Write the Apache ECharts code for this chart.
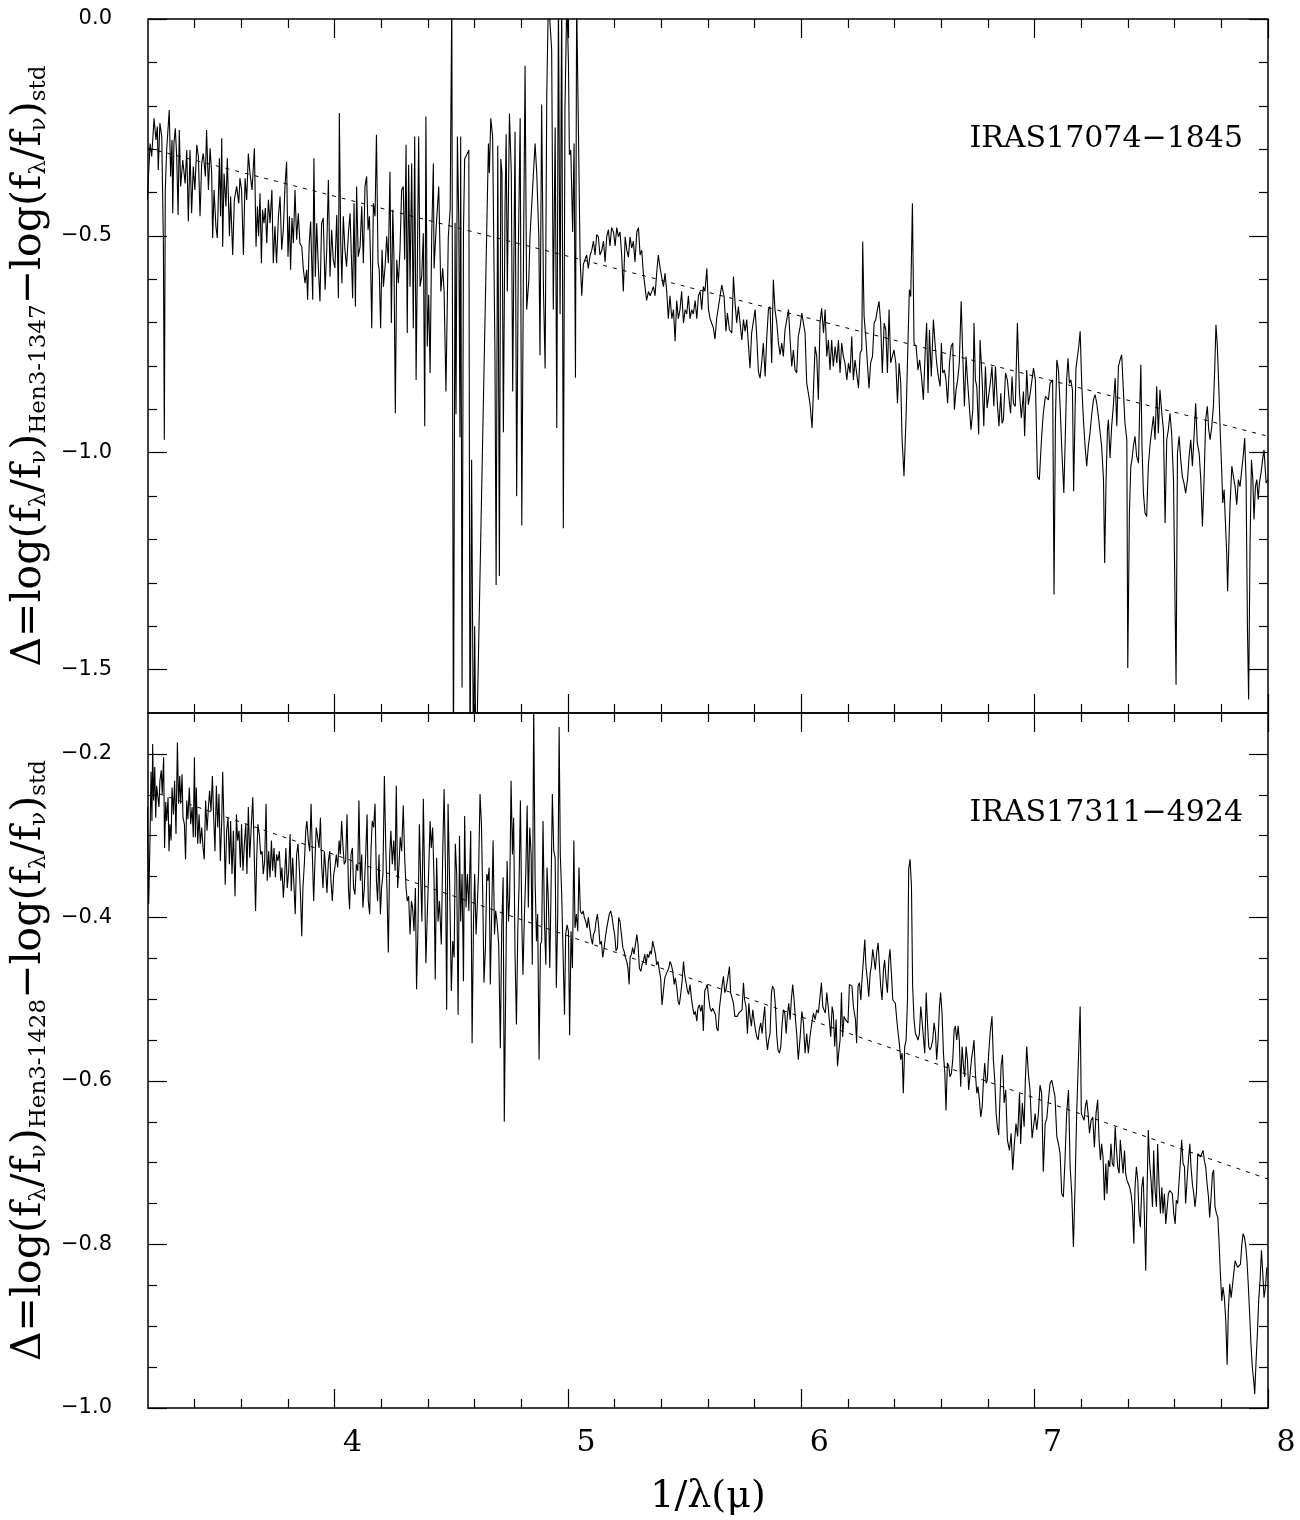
<!DOCTYPE html>
<html><head><meta charset="utf-8">
<script src="https://cdn.jsdelivr.net/npm/echarts@6/dist/echarts.min.js"></script>
<style>html,body{margin:0;padding:0;background:#fff}#c{width:1300px;height:1520px}</style>
</head><body><div id="c"></div>
<script>
// ---- tick values ----
const xMajorTicks = [4, 5, 6, 7, 8];
const xMinorTicks = [3.4, 3.6, 3.8, 4.2, 4.4, 4.6, 4.8, 5.2, 5.4, 5.6, 5.8, 6.2, 6.4, 6.6, 6.8, 7.2, 7.4, 7.6, 7.8];
const topYMajor = [-1.5, -1.0, -0.5, 0.0];
const topYMinor = [-1.4, -1.3, -1.2, -1.1, -0.9, -0.8, -0.7, -0.6, -0.4, -0.3, -0.2, -0.1];
const botYMajor = [-1.0, -0.8, -0.6, -0.4, -0.2];
const botYMinor = [-0.95, -0.9, -0.85, -0.75, -0.7, -0.65, -0.55, -0.5, -0.45, -0.35, -0.3, -0.25];

// ---- labels ----
const topLabel = 'IRAS17074\u22121845';
const botLabel = 'IRAS17311\u22124924';

// ---- trend lines [1/lambda, Delta] ----
const topTrend = [[3.2, -0.298], [8.0, -0.962]];
const botTrend = [[3.25, -0.249], [8.0, -0.720]];

// ---- top spectrum: IRAS17074-1845 [1/lambda, Delta] ----
const topSpectrum = [
[3.197,-0.417],[3.209,-0.287],[3.216,-0.317],[3.226,-0.229],[3.234,-0.279],[3.240,-0.248],[3.244,-0.348],[3.251,-0.240],[3.259,-0.271],[3.266,-0.521],[3.270,-0.970],[3.274,-0.394],[3.280,-0.302],[3.291,-0.210],[3.297,-0.363],[3.303,-0.279],[3.306,-0.448],[3.311,-0.287],[3.317,-0.252],[3.323,-0.317],[3.329,-0.452],[3.334,-0.256],[3.340,-0.386],[3.349,-0.325],[3.359,-0.379],[3.366,-0.302],[3.373,-0.467],[3.380,-0.302],[3.387,-0.448],[3.394,-0.340],[3.401,-0.394],[3.409,-0.290],[3.416,-0.317],[3.423,-0.455],[3.430,-0.333],[3.437,-0.310],[3.446,-0.363],[3.451,-0.256],[3.459,-0.394],[3.466,-0.298],[3.473,-0.356],[3.477,-0.505],[3.483,-0.394],[3.491,-0.478],[3.497,-0.505],[3.506,-0.321],[3.511,-0.455],[3.516,-0.275],[3.520,-0.525],[3.526,-0.356],[3.534,-0.432],[3.540,-0.321],[3.549,-0.501],[3.554,-0.409],[3.563,-0.544],[3.570,-0.417],[3.580,-0.386],[3.589,-0.425],[3.594,-0.367],[3.601,-0.394],[3.609,-0.544],[3.616,-0.367],[3.623,-0.417],[3.630,-0.310],[3.637,-0.356],[3.646,-0.394],[3.656,-0.298],[3.663,-0.525],[3.669,-0.432],[3.674,-0.501],[3.680,-0.402],[3.686,-0.563],[3.691,-0.440],[3.697,-0.471],[3.703,-0.436],[3.709,-0.517],[3.716,-0.417],[3.723,-0.471],[3.731,-0.394],[3.737,-0.563],[3.744,-0.478],[3.751,-0.563],[3.759,-0.455],[3.766,-0.409],[3.773,-0.532],[3.780,-0.486],[3.787,-0.386],[3.794,-0.329],[3.800,-0.548],[3.806,-0.455],[3.811,-0.578],[3.817,-0.459],[3.823,-0.517],[3.830,-0.394],[3.837,-0.509],[3.844,-0.448],[3.851,-0.517],[3.859,-0.525],[3.866,-0.578],[3.873,-0.609],[3.880,-0.578],[3.884,-0.647],[3.891,-0.517],[3.897,-0.467],[3.906,-0.647],[3.911,-0.321],[3.917,-0.594],[3.923,-0.471],[3.930,-0.571],[3.937,-0.651],[3.944,-0.471],[3.951,-0.459],[3.959,-0.624],[3.966,-0.532],[3.973,-0.371],[3.980,-0.594],[3.987,-0.486],[3.994,-0.555],[4.001,-0.574],[4.009,-0.452],[4.016,-0.644],[4.020,-0.217],[4.026,-0.517],[4.031,-0.609],[4.037,-0.455],[4.044,-0.532],[4.051,-0.571],[4.059,-0.494],[4.066,-0.448],[4.073,-0.571],[4.077,-0.644],[4.083,-0.425],[4.089,-0.663],[4.094,-0.386],[4.101,-0.548],[4.109,-0.525],[4.116,-0.432],[4.123,-0.563],[4.130,-0.386],[4.137,-0.363],[4.143,-0.486],[4.149,-0.455],[4.154,-0.563],[4.159,-0.713],[4.166,-0.425],[4.173,-0.455],[4.179,-0.267],[4.186,-0.563],[4.191,-0.578],[4.197,-0.713],[4.203,-0.532],[4.209,-0.617],[4.216,-0.571],[4.223,-0.501],[4.230,-0.563],[4.237,-0.352],[4.243,-0.701],[4.249,-0.440],[4.254,-0.548],[4.260,-0.909],[4.266,-0.555],[4.273,-0.609],[4.280,-0.532],[4.287,-0.394],[4.294,-0.386],[4.300,-0.555],[4.306,-0.290],[4.311,-0.724],[4.317,-0.336],[4.323,-0.617],[4.330,-0.333],[4.337,-0.713],[4.343,-0.271],[4.349,-0.832],[4.354,-0.586],[4.360,-0.271],[4.366,-0.617],[4.373,-0.594],[4.380,-0.494],[4.386,-0.939],[4.391,-0.225],[4.397,-0.755],[4.403,-0.636],[4.409,-0.816],[4.416,-0.494],[4.423,-0.333],
[4.426,-0.575],[4.435,-0.481],[4.446,-0.386],[4.455,-0.628],[4.463,-0.575],[4.469,-0.628],[4.477,-0.859],[4.487,-0.502],[4.495,-0.439],[4.502,0.05],[4.509,-1.75],[4.516,-0.470],[4.520,-0.911],[4.526,-0.271],[4.532,-0.470],[4.537,-0.964],[4.540,-0.271],[4.546,-1.541],[4.552,-0.491],[4.557,-0.323],[4.566,-0.313],[4.575,-0.302],[4.580,-1.75],[4.587,-1.016],[4.595,-1.75],[4.600,-1.40],[4.606,-1.75],[4.659,-0.287],[4.663,-0.355],[4.669,-0.229],[4.677,-0.271],[4.687,-0.775],[4.692,-1.305],[4.699,-0.292],[4.706,-1.284],[4.712,-0.323],[4.717,-0.355],[4.723,-0.953],[4.730,-0.439],[4.735,-0.266],[4.740,-0.628],[4.749,-0.218],[4.757,-0.355],[4.763,-0.859],[4.773,-0.260],[4.780,-1.100],[4.787,-0.544],[4.795,-0.229],[4.802,-1.168],[4.809,-0.565],[4.816,-0.108],[4.823,-0.670],[4.832,-0.602],[4.837,-0.502],[4.852,-0.355],[4.859,-0.287],[4.866,-0.355],[4.875,-0.502],[4.880,-0.775],[4.887,-0.197],[4.895,-0.628],[4.902,-0.806],[4.909,-0.176],[4.916,0.05],[4.923,0.05],[4.930,-0.071],[4.937,-0.670],[4.945,-0.250],[4.952,-0.943],[4.959,0.05],[4.966,-0.680],[4.973,0.05],[4.980,-1.174],[4.987,-0.208],[4.995,0.05],[5.002,-0.103],[5.006,-0.313],[5.012,-0.302],[5.020,-0.491],[5.026,-0.287],[5.032,-0.827],[5.037,0.05],[5.045,0.05],[5.052,-0.554],
[5.059,-0.638],[5.066,-0.565],[5.073,-0.565],[5.080,-0.544],[5.087,-0.575],[5.095,-0.544],[5.102,-0.533],[5.109,-0.512],[5.116,-0.544],[5.123,-0.497],[5.130,-0.502],[5.137,-0.544],[5.145,-0.533],[5.152,-0.512],[5.159,-0.560],[5.166,-0.502],[5.173,-0.486],[5.180,-0.523],[5.187,-0.481],[5.195,-0.491],[5.202,-0.523],[5.209,-0.481],[5.216,-0.502],[5.223,-0.491],[5.230,-0.544],[5.237,-0.628],[5.245,-0.502],[5.252,-0.533],[5.259,-0.549],[5.266,-0.502],[5.273,-0.528],[5.280,-0.512],[5.287,-0.560],[5.295,-0.491],[5.302,-0.481],[5.309,-0.544],[5.316,-0.533],[5.323,-0.586],[5.330,-0.617],[5.337,-0.649],[5.345,-0.628],[5.352,-0.638],[5.359,-0.628],[5.366,-0.617],[5.373,-0.638],[5.380,-0.586],[5.387,-0.544],[5.395,-0.575],[5.402,-0.596],[5.409,-0.617],[5.416,-0.586],[5.423,-0.628],[5.430,-0.691],[5.437,-0.638],[5.445,-0.691],[5.452,-0.670],[5.459,-0.743],[5.466,-0.649],[5.473,-0.691],[5.480,-0.670],[5.487,-0.628],[5.495,-0.701],[5.502,-0.670],[5.509,-0.680],[5.516,-0.638],[5.523,-0.691],[5.530,-0.670],[5.537,-0.680],[5.545,-0.649],[5.552,-0.691],[5.559,-0.638],[5.566,-0.628],[5.573,-0.670],[5.580,-0.617],[5.587,-0.628],[5.595,-0.575],[5.602,-0.670],[5.609,-0.691],[5.616,-0.691],[5.623,-0.712],[5.630,-0.738],[5.637,-0.691],
[5.659,-0.613],[5.669,-0.640],[5.677,-0.720],[5.683,-0.678],[5.692,-0.717],[5.702,-0.724],[5.709,-0.594],[5.716,-0.655],[5.723,-0.701],[5.730,-0.663],[5.737,-0.659],[5.745,-0.740],[5.752,-0.693],[5.759,-0.720],[5.766,-0.693],[5.773,-0.697],[5.780,-0.805],[5.787,-0.724],[5.795,-0.724],[5.802,-0.670],[5.809,-0.732],[5.816,-0.813],[5.823,-0.828],[5.830,-0.793],[5.837,-0.747],[5.845,-0.824],[5.852,-0.732],[5.859,-0.670],[5.866,-0.663],[5.873,-0.793],[5.880,-0.601],[5.887,-0.670],[5.895,-0.701],[5.902,-0.747],[5.909,-0.774],[5.916,-0.747],[5.923,-0.778],[5.930,-0.717],[5.937,-0.720],[5.945,-0.670],[5.952,-0.740],[5.959,-0.801],[5.966,-0.763],[5.973,-0.809],[5.980,-0.816],[5.987,-0.732],[5.995,-0.709],[6.002,-0.678],[6.009,-0.701],[6.016,-0.724],[6.023,-0.839],[6.037,-0.886],[6.046,-0.943],[6.052,-0.855],[6.059,-0.755],[6.066,-0.778],[6.073,-0.878],[6.080,-0.701],[6.087,-0.667],[6.095,-0.724],[6.102,-0.670],[6.109,-0.778],[6.116,-0.740],[6.123,-0.809],[6.130,-0.740],[6.137,-0.801],[6.145,-0.755],[6.152,-0.793],[6.159,-0.740],[6.166,-0.816],[6.173,-0.747],[6.180,-0.778],[6.187,-0.793],[6.195,-0.832],[6.202,-0.793],[6.209,-0.816],[6.216,-0.732],[6.223,-0.832],[6.230,-0.786],[6.237,-0.786],[6.245,-0.851],[6.252,-0.770],[6.259,-0.763],[6.263,-0.513],[6.269,-0.686],[6.276,-0.732],[6.283,-0.793],[6.290,-0.851],[6.297,-0.793],[6.305,-0.778],[6.312,-0.701],[6.319,-0.693],[6.326,-0.670],[6.333,-0.651],[6.340,-0.701],[6.347,-0.816],[6.355,-0.701],[6.362,-0.717],[6.369,-0.816],[6.376,-0.670],[6.383,-0.793],[6.390,-0.778],[6.397,-0.763],[6.405,-0.793],[6.412,-0.886],[6.419,-0.793],[6.426,-0.839],[6.432,-0.970],[6.440,-1.054],[6.449,-0.916],[6.457,-0.747],[6.463,-0.624],[6.469,-0.640],[6.476,-0.425],[6.483,-0.747],[6.492,-0.755],[6.500,-0.809],[6.507,-0.786],[6.515,-0.824],[6.523,-0.878],[6.530,-0.778],[6.537,-0.701],[6.543,-0.862],[6.549,-0.717],[6.557,-0.824],[6.566,-0.693],[6.573,-0.747],[6.580,-0.793],[6.587,-0.824],[6.595,-0.847],[6.600,-0.747],[6.606,-0.816],[6.613,-0.809],[6.620,-0.832],[6.627,-0.886],[6.635,-0.793],[6.642,-0.755],[6.649,-0.747],[6.656,-0.901],[6.663,-0.855],[6.670,-0.832],[6.677,-0.793],[6.685,-0.651],[6.692,-0.778],[6.699,-0.893],[6.706,-0.778],[6.713,-0.839],[6.720,-0.893],[6.727,-0.947],[6.735,-0.901],[6.740,-0.701],[6.746,-0.832],[6.752,-0.847],[6.760,-0.958],[6.766,-0.740],[6.775,-0.832],[6.782,-0.939],[6.789,-0.801],[6.796,-0.897],[6.803,-0.897],[6.810,-0.839],[6.817,-0.801],[6.825,-0.893],[6.832,-0.801],[6.840,-0.886],[6.847,-0.939],
[6.855,-0.863],[6.860,-0.932],[6.866,-0.924],[6.875,-0.816],[6.883,-0.832],[6.892,-0.886],[6.897,-0.909],[6.903,-0.824],[6.909,-0.886],[6.917,-0.893],[6.926,-0.701],[6.935,-0.863],[6.943,-0.920],[6.952,-0.859],[6.957,-0.962],[6.966,-0.809],[6.973,-0.889],[6.980,-0.866],[6.987,-0.863],[6.995,-0.805],[7.003,-0.832],[7.012,-1.055],[7.020,-1.062],[7.030,-0.962],[7.037,-0.909],[7.046,-0.870],[7.052,-0.866],[7.059,-0.878],[7.066,-0.840],[7.073,-0.836],[7.077,-0.832],[7.083,-1.327],[7.089,-0.924],[7.095,-0.786],[7.102,-0.809],[7.109,-0.893],[7.117,-1.001],[7.125,-1.093],[7.132,-0.947],[7.137,-0.832],[7.143,-0.782],[7.149,-0.840],[7.155,-0.832],[7.162,-0.855],[7.167,-1.089],[7.173,-0.909],[7.177,-0.805],[7.183,-0.809],[7.189,-0.755],[7.195,-0.720],[7.202,-0.847],[7.209,-0.924],[7.216,-0.985],[7.223,-1.031],[7.230,-0.985],[7.237,-0.955],[7.245,-0.909],[7.252,-0.878],[7.259,-0.866],[7.266,-0.886],[7.273,-0.916],[7.280,-0.916],[7.287,-0.985],[7.295,-1.062],[7.300,-1.254],[7.306,-1.062],[7.312,-0.947],[7.316,-0.924],[7.323,-1.012],[7.330,-0.939],[7.337,-0.893],[7.345,-0.828],[7.352,-0.939],[7.359,-0.801],[7.366,-0.786],[7.373,-0.774],[7.380,-0.855],[7.387,-0.932],[7.395,-0.970],[7.399,-1.496],[7.406,-1.139],[7.412,-1.031],[7.417,-1.016],[7.423,-0.985],[7.430,-0.962],[7.437,-1.008],[7.445,-1.024],[7.449,-0.924],[7.455,-0.797],[7.460,-0.985],[7.466,-1.093],[7.473,-1.139],[7.480,-1.147],[7.487,-1.031],[7.495,-0.978],[7.502,-0.978],[7.509,-0.916],[7.516,-0.970],[7.523,-0.847],[7.530,-0.955],[7.537,-0.855],[7.545,-0.909],[7.552,-0.947],[7.559,-1.162],[7.566,-0.970],[7.573,-0.947],[7.580,-0.909],[7.587,-0.955],[7.595,-1.062],[7.606,-1.535],[7.612,-1.001],[7.619,-0.962],[7.626,-1.016],[7.633,-1.055],[7.640,-1.070],[7.647,-1.093],[7.655,-1.062],[7.662,-1.008],[7.669,-0.970],[7.676,-1.031],[7.683,-0.962],[7.690,-0.886],[7.697,-0.978],[7.705,-1.001],[7.712,-1.062],[7.719,-1.170],[7.726,-1.062],[7.733,-0.924],[7.740,-0.893],[7.746,-0.947],[7.752,-0.970],[7.759,-0.939],[7.766,-0.893],[7.772,-0.801],[7.777,-0.705],[7.783,-0.755],[7.789,-0.847],[7.795,-0.947],[7.802,-1.047],[7.806,-1.116],[7.812,-1.085],[7.817,-1.154],[7.823,-1.231],[7.827,-1.319],[7.832,-1.216],[7.837,-1.124],[7.845,-1.031],[7.852,-1.055],[7.859,-1.078],[7.866,-1.120],[7.873,-1.062],[7.880,-1.078],[7.887,-1.078],[7.895,-1.001],[7.900,-0.966],[7.906,-1.062],[7.912,-1.408],[7.917,-1.569],[7.923,-1.216],[7.929,-1.016],[7.935,-1.062],[7.940,-1.154],[7.946,-1.078],[7.952,-1.062],[7.958,-1.108],[7.963,-1.070],[7.970,-1.047],[7.977,-1.016],[7.983,-0.993],[7.992,-1.070],[7.999,-1.062]
];

// ---- bottom spectrum: IRAS17311-4924 [1/lambda, Delta] ----
const botSpectrum = [
[3.197,-0.265],[3.203,-0.384],[3.209,-0.298],[3.213,-0.222],[3.217,-0.282],[3.220,-0.188],[3.224,-0.257],[3.229,-0.216],[3.233,-0.278],[3.237,-0.239],[3.241,-0.249],[3.247,-0.265],[3.251,-0.233],[3.257,-0.220],[3.261,-0.249],[3.267,-0.204],[3.271,-0.315],[3.276,-0.259],[3.280,-0.282],[3.286,-0.253],[3.290,-0.319],[3.294,-0.286],[3.299,-0.306],[3.303,-0.241],[3.309,-0.274],[3.314,-0.233],[3.320,-0.298],[3.326,-0.186],[3.331,-0.261],[3.336,-0.227],[3.340,-0.261],[3.346,-0.225],[3.350,-0.278],[3.356,-0.286],[3.361,-0.329],[3.366,-0.257],[3.371,-0.280],[3.377,-0.241],[3.383,-0.286],[3.389,-0.265],[3.394,-0.302],[3.399,-0.204],[3.403,-0.302],[3.407,-0.241],[3.413,-0.310],[3.419,-0.274],[3.424,-0.310],[3.430,-0.290],[3.436,-0.315],[3.441,-0.329],[3.447,-0.257],[3.453,-0.294],[3.459,-0.265],[3.464,-0.245],[3.470,-0.270],[3.476,-0.227],[3.481,-0.274],[3.487,-0.319],[3.493,-0.239],[3.499,-0.290],[3.504,-0.249],[3.510,-0.331],[3.516,-0.282],[3.520,-0.222],[3.526,-0.290],[3.531,-0.360],[3.537,-0.294],[3.543,-0.278],[3.549,-0.335],[3.554,-0.282],[3.560,-0.347],[3.566,-0.294],[3.573,-0.374],[3.579,-0.274],[3.584,-0.306],[3.590,-0.294],[3.596,-0.339],[3.601,-0.286],[3.607,-0.343],[3.613,-0.310],[3.619,-0.286],[3.624,-0.347],[3.630,-0.265],[3.636,-0.327],[3.643,-0.286],[3.649,-0.253],[3.654,-0.306],[3.661,-0.392],[3.666,-0.327],[3.671,-0.286],[3.677,-0.298],[3.683,-0.323],[3.689,-0.319],[3.694,-0.347],[3.700,-0.331],[3.706,-0.261],[3.711,-0.355],[3.717,-0.319],[3.723,-0.351],[3.729,-0.306],[3.734,-0.343],[3.740,-0.315],[3.746,-0.351],[3.751,-0.323],[3.757,-0.331],[3.763,-0.319],[3.769,-0.355],[3.774,-0.339],[3.780,-0.376],[3.786,-0.347],[3.791,-0.315],[3.797,-0.364],[3.803,-0.343],[3.809,-0.298],[3.814,-0.368],[3.820,-0.327],[3.826,-0.364],[3.831,-0.396],[3.837,-0.323],[3.843,-0.310],[3.849,-0.343],[3.854,-0.376],[3.859,-0.423],[3.864,-0.364],[3.870,-0.335],[3.876,-0.294],[3.881,-0.282],[3.887,-0.306],[3.893,-0.319],[3.899,-0.261],[3.904,-0.319],[3.910,-0.380],[3.916,-0.327],[3.921,-0.290],[3.927,-0.302],[3.933,-0.315],[3.939,-0.278],[3.944,-0.335],[3.950,-0.364],[3.956,-0.319],[3.961,-0.339],[3.967,-0.370],[3.973,-0.331],[3.979,-0.319],[3.984,-0.355],[3.990,-0.380],[3.996,-0.347],[4.001,-0.339],[4.007,-0.323],[4.013,-0.339],[4.019,-0.306],[4.024,-0.323],[4.030,-0.282],[4.036,-0.315],[4.041,-0.335],[4.047,-0.331],[4.053,-0.274],[4.059,-0.364],[4.064,-0.390],[4.070,-0.323],[4.076,-0.315],[4.081,-0.364],[4.087,-0.372],[4.093,-0.335],[4.099,-0.343],[4.104,-0.257],[4.110,-0.355],[4.116,-0.323],[4.121,-0.388],[4.127,-0.364],[4.133,-0.323],[4.139,-0.274],[4.144,-0.380],[4.150,-0.396],[4.156,-0.315],[4.161,-0.282],[4.167,-0.290],[4.173,-0.261],[4.179,-0.355],[4.184,-0.380],[4.190,-0.323],[4.196,-0.396],[4.201,-0.364],[4.207,-0.347],[4.213,-0.227],[4.219,-0.315],[4.224,-0.364],[4.230,-0.443],[4.236,-0.323],[4.241,-0.294],[4.247,-0.335],[4.253,-0.306],[4.259,-0.343],[4.264,-0.239],[4.270,-0.364],[4.276,-0.335],[4.281,-0.302],[4.287,-0.319],[4.294,-0.263],[4.300,-0.327],[4.306,-0.364],[4.311,-0.380],[4.317,-0.374],[4.323,-0.421],[4.329,-0.380],[4.334,-0.388],[4.340,-0.417],[4.346,-0.364],[4.351,-0.488],[4.357,-0.413],[4.363,-0.286],[4.369,-0.355],[4.374,-0.405],[4.380,-0.255],[4.386,-0.364],[4.391,-0.456],[4.397,-0.396],[4.403,-0.343],[4.409,-0.282],[4.414,-0.315],[4.420,-0.290],[4.426,-0.355],[4.431,-0.476],[4.437,-0.327],[4.443,-0.405],[4.449,-0.380],
[4.457,-0.433],[4.463,-0.323],[4.469,-0.243],[4.475,-0.343],[4.480,-0.513],[4.486,-0.261],[4.492,-0.347],[4.500,-0.490],[4.506,-0.429],[4.512,-0.449],[4.517,-0.310],[4.523,-0.347],[4.529,-0.519],[4.535,-0.300],[4.540,-0.405],[4.546,-0.347],[4.552,-0.478],[4.557,-0.276],[4.563,-0.388],[4.569,-0.347],[4.575,-0.392],[4.583,-0.294],[4.589,-0.554],[4.595,-0.405],[4.600,-0.347],[4.606,-0.421],[4.612,-0.380],[4.617,-0.343],[4.623,-0.249],[4.629,-0.286],[4.635,-0.380],[4.640,-0.480],[4.646,-0.437],[4.652,-0.347],[4.657,-0.355],[4.662,-0.339],[4.667,-0.482],[4.673,-0.482],[4.679,-0.306],[4.685,-0.421],[4.690,-0.392],[4.696,-0.405],[4.703,-0.433],[4.710,-0.560],[4.716,-0.413],[4.722,-0.351],[4.727,-0.650],[4.733,-0.486],[4.739,-0.331],[4.745,-0.405],[4.750,-0.374],[4.756,-0.233],[4.762,-0.323],[4.767,-0.278],[4.773,-0.445],[4.779,-0.531],[4.785,-0.413],[4.790,-0.364],[4.796,-0.257],[4.802,-0.405],[4.807,-0.470],[4.813,-0.400],[4.819,-0.347],[4.825,-0.263],[4.830,-0.388],[4.836,-0.290],[4.842,-0.323],[4.847,-0.458],[4.853,-0.140],[4.859,-0.355],[4.865,-0.429],[4.870,-0.396],[4.876,-0.574],[4.882,-0.433],[4.887,-0.429],[4.893,-0.282],[4.899,-0.405],[4.905,-0.458],[4.910,-0.339],[4.916,-0.380],[4.922,-0.462],[4.927,-0.372],[4.933,-0.249],[4.939,-0.319],[4.945,-0.327],[4.950,-0.486],[4.956,-0.396],[4.962,-0.167],[4.967,-0.323],[4.973,-0.372],[4.979,-0.374],[4.985,-0.519],[4.990,-0.421],[4.996,-0.409],[5.002,-0.417],[5.007,-0.544],[5.013,-0.417],[5.019,-0.462],[5.025,-0.306],[5.030,-0.413],[5.036,-0.396],[5.042,-0.417],[5.047,-0.339],[5.053,-0.392],[5.059,-0.396],[5.065,-0.392],[5.070,-0.400],[5.076,-0.405],[5.082,-0.413],[5.087,-0.400],[5.093,-0.413],[5.099,-0.425],[5.105,-0.433],[5.109,-0.421],[5.115,-0.417],[5.120,-0.405],[5.126,-0.396],[5.132,-0.413],[5.137,-0.433],[5.143,-0.429],[5.149,-0.449],[5.155,-0.437],[5.160,-0.425],[5.166,-0.413],[5.172,-0.413],[5.177,-0.396],[5.183,-0.392],[5.189,-0.400],[5.195,-0.413],[5.200,-0.421],[5.206,-0.441],[5.212,-0.437],[5.217,-0.400],[5.223,-0.405],[5.229,-0.421],[5.235,-0.437],[5.240,-0.441],[5.246,-0.449],[5.252,-0.454],[5.257,-0.462],[5.262,-0.482],[5.266,-0.449],[5.272,-0.445],[5.277,-0.437],[5.283,-0.445],[5.289,-0.433],[5.295,-0.421],[5.300,-0.433],[5.306,-0.462],[5.312,-0.466],[5.317,-0.458],[5.323,-0.454],[5.329,-0.445],[5.335,-0.458],[5.340,-0.445],[5.346,-0.449],[5.352,-0.441],[5.357,-0.445],[5.363,-0.429],[5.369,-0.429],[5.375,-0.445],[5.380,-0.458],[5.386,-0.454],[5.392,-0.466],[5.397,-0.474],[5.403,-0.507],[5.409,-0.490],[5.415,-0.474],[5.420,-0.470],[5.426,-0.470],[5.432,-0.462],[5.437,-0.454],[5.443,-0.458],[5.449,-0.466],[5.455,-0.482],[5.460,-0.474],[5.466,-0.486],[5.472,-0.503],[5.477,-0.507],[5.483,-0.494],[5.489,-0.478],[5.495,-0.454],[5.500,-0.470],[5.506,-0.470],[5.512,-0.490],[5.517,-0.494],[5.523,-0.482],[5.529,-0.499],[5.535,-0.511],[5.540,-0.519],[5.546,-0.515],[5.552,-0.527],[5.557,-0.511],[5.563,-0.507],[5.569,-0.515],[5.575,-0.507],[5.580,-0.539],[5.586,-0.490],[5.592,-0.486],[5.597,-0.482],[5.603,-0.499],[5.609,-0.511],[5.615,-0.515],[5.620,-0.511],[5.626,-0.515],[5.632,-0.519],[5.637,-0.535],[5.643,-0.539],[5.649,-0.511],
[5.655,-0.509],[5.660,-0.484],[5.666,-0.472],[5.672,-0.492],[5.677,-0.488],[5.686,-0.472],[5.692,-0.460],[5.697,-0.492],[5.703,-0.492],[5.709,-0.505],[5.715,-0.521],[5.720,-0.523],[5.726,-0.521],[5.732,-0.517],[5.737,-0.519],[5.746,-0.513],[5.752,-0.480],[5.757,-0.501],[5.763,-0.509],[5.769,-0.542],[5.775,-0.505],[5.780,-0.521],[5.786,-0.533],[5.792,-0.513],[5.797,-0.525],[5.803,-0.537],[5.809,-0.546],[5.815,-0.550],[5.820,-0.537],[5.826,-0.529],[5.832,-0.542],[5.837,-0.525],[5.843,-0.509],[5.849,-0.546],[5.855,-0.562],[5.860,-0.550],[5.866,-0.542],[5.872,-0.492],[5.877,-0.484],[5.883,-0.488],[5.889,-0.509],[5.895,-0.546],[5.900,-0.562],[5.906,-0.566],[5.912,-0.558],[5.917,-0.533],[5.923,-0.513],[5.929,-0.517],[5.935,-0.542],[5.940,-0.521],[5.946,-0.505],[5.952,-0.525],[5.957,-0.501],[5.963,-0.482],[5.969,-0.501],[5.975,-0.525],[5.980,-0.542],[5.987,-0.574],[5.995,-0.546],[6.002,-0.515],[6.009,-0.529],[6.016,-0.566],[6.023,-0.542],[6.030,-0.566],[6.037,-0.546],[6.045,-0.529],[6.052,-0.517],[6.059,-0.525],[6.066,-0.513],[6.073,-0.517],[6.080,-0.517],[6.086,-0.480],[6.092,-0.509],[6.097,-0.513],[6.103,-0.517],[6.109,-0.492],[6.115,-0.509],[6.120,-0.509],[6.126,-0.546],[6.132,-0.509],[6.137,-0.517],[6.143,-0.558],[6.149,-0.525],[6.155,-0.582],[6.160,-0.566],[6.166,-0.550],[6.172,-0.492],[6.177,-0.546],[6.183,-0.521],[6.189,-0.525],[6.195,-0.525],[6.200,-0.529],[6.206,-0.482],[6.212,-0.480],[6.217,-0.484],[6.223,-0.509],[6.232,-0.525],[6.237,-0.554],[6.243,-0.484],[6.249,-0.480],[6.255,-0.501],[6.260,-0.476],[6.266,-0.452],[6.272,-0.427],[6.277,-0.460],[6.283,-0.476],[6.289,-0.497],[6.295,-0.468],[6.300,-0.460],[6.306,-0.439],[6.312,-0.452],[6.317,-0.464],[6.323,-0.443],[6.329,-0.431],[6.335,-0.460],[6.340,-0.484],[6.346,-0.501],[6.352,-0.464],[6.357,-0.452],[6.363,-0.476],[6.369,-0.492],[6.375,-0.452],[6.380,-0.439],[6.386,-0.468],[6.392,-0.501],[6.397,-0.501],[6.403,-0.505],[6.409,-0.525],[6.415,-0.542],[6.420,-0.554],[6.426,-0.574],[6.432,-0.566],[6.437,-0.615],[6.443,-0.558],[6.449,-0.550],[6.455,-0.501],[6.460,-0.341],[6.466,-0.329],[6.472,-0.362],[6.477,-0.484],[6.483,-0.525],[6.489,-0.542],[6.495,-0.546],[6.500,-0.550],[6.506,-0.542],[6.512,-0.509],[6.517,-0.525],[6.523,-0.546],[6.529,-0.566],[6.535,-0.492],[6.540,-0.525],[6.546,-0.558],[6.552,-0.562],[6.557,-0.558],[6.563,-0.550],[6.569,-0.529],[6.575,-0.542],[6.580,-0.574],[6.586,-0.550],[6.592,-0.509],[6.597,-0.492],[6.603,-0.517],[6.609,-0.566],[6.615,-0.591],[6.620,-0.636],[6.626,-0.578],[6.632,-0.582],[6.637,-0.595],[6.643,-0.591],[6.649,-0.574],[6.655,-0.537],[6.660,-0.533],[6.666,-0.550],[6.672,-0.533],[6.677,-0.550],[6.683,-0.607],[6.689,-0.558],[6.695,-0.582],[6.700,-0.595],[6.706,-0.558],[6.712,-0.574],[6.717,-0.611],[6.723,-0.611],[6.729,-0.574],[6.735,-0.562],[6.740,-0.550],[6.746,-0.591],[6.752,-0.615],[6.757,-0.607],[6.763,-0.623],[6.769,-0.644],[6.775,-0.632],[6.780,-0.603],[6.786,-0.578],[6.792,-0.603],[6.797,-0.599],[6.803,-0.566],[6.809,-0.542],[6.817,-0.521],[6.823,-0.574],[6.829,-0.599],[6.835,-0.640],[6.840,-0.656],
[6.846,-0.666],[6.856,-0.582],[6.862,-0.568],[6.869,-0.627],[6.876,-0.611],[6.883,-0.672],[6.892,-0.685],[6.899,-0.664],[6.906,-0.709],[6.913,-0.677],[6.920,-0.652],[6.927,-0.668],[6.935,-0.615],[6.940,-0.677],[6.947,-0.627],[6.955,-0.656],[6.960,-0.599],[6.966,-0.558],[6.973,-0.591],[6.980,-0.611],[6.989,-0.670],[6.995,-0.656],[7.002,-0.640],[7.009,-0.660],[7.016,-0.640],[7.023,-0.605],[7.030,-0.615],[7.037,-0.711],[7.045,-0.652],[7.052,-0.646],[7.059,-0.623],[7.066,-0.603],[7.073,-0.599],[7.080,-0.601],[7.087,-0.619],[7.095,-0.668],[7.102,-0.677],[7.109,-0.689],[7.116,-0.738],[7.123,-0.742],[7.130,-0.697],[7.137,-0.640],[7.145,-0.611],[7.152,-0.705],[7.159,-0.738],[7.166,-0.803],[7.173,-0.730],[7.180,-0.640],[7.187,-0.578],[7.195,-0.509],[7.200,-0.640],[7.206,-0.644],[7.212,-0.648],[7.217,-0.632],[7.223,-0.623],[7.229,-0.640],[7.235,-0.664],[7.242,-0.648],[7.249,-0.644],[7.256,-0.681],[7.263,-0.640],[7.270,-0.623],[7.276,-0.672],[7.282,-0.697],[7.287,-0.677],[7.293,-0.693],[7.299,-0.746],[7.305,-0.701],[7.310,-0.738],[7.316,-0.697],[7.322,-0.705],[7.327,-0.677],[7.333,-0.701],[7.339,-0.705],[7.345,-0.656],[7.350,-0.681],[7.356,-0.705],[7.362,-0.713],[7.367,-0.672],[7.373,-0.693],[7.379,-0.713],[7.385,-0.685],[7.390,-0.713],[7.396,-0.722],[7.402,-0.726],[7.407,-0.730],[7.413,-0.738],[7.419,-0.754],[7.425,-0.799],[7.430,-0.730],[7.436,-0.705],[7.442,-0.722],[7.447,-0.762],[7.453,-0.779],[7.459,-0.730],[7.465,-0.717],[7.470,-0.762],[7.476,-0.832],[7.482,-0.730],[7.487,-0.660],[7.493,-0.701],[7.499,-0.722],[7.505,-0.754],[7.510,-0.685],[7.516,-0.734],[7.522,-0.754],[7.527,-0.677],[7.533,-0.726],[7.539,-0.762],[7.545,-0.730],[7.550,-0.762],[7.556,-0.738],[7.562,-0.775],[7.567,-0.758],[7.573,-0.738],[7.579,-0.734],[7.585,-0.734],[7.590,-0.738],[7.596,-0.762],[7.602,-0.775],[7.607,-0.746],[7.613,-0.750],[7.619,-0.722],[7.625,-0.697],[7.630,-0.672],[7.636,-0.701],[7.642,-0.705],[7.647,-0.750],[7.653,-0.722],[7.659,-0.697],[7.665,-0.677],[7.670,-0.705],[7.676,-0.726],[7.682,-0.738],[7.687,-0.754],[7.693,-0.738],[7.699,-0.689],[7.705,-0.691],[7.710,-0.693],[7.716,-0.689],[7.722,-0.685],[7.727,-0.697],[7.733,-0.705],[7.739,-0.726],[7.745,-0.742],[7.750,-0.767],[7.756,-0.742],[7.762,-0.713],[7.767,-0.709],[7.773,-0.754],[7.779,-0.762],[7.785,-0.767],[7.790,-0.795],[7.796,-0.836],[7.802,-0.869],[7.807,-0.852],[7.813,-0.865],[7.819,-0.893],[7.825,-0.947],[7.830,-0.881],[7.836,-0.848],[7.842,-0.865],[7.847,-0.852],[7.853,-0.836],[7.859,-0.820],[7.865,-0.820],[7.870,-0.828],[7.876,-0.828],[7.882,-0.824],[7.887,-0.803],[7.893,-0.787],[7.899,-0.791],[7.905,-0.803],[7.910,-0.820],[7.916,-0.852],[7.922,-0.889],[7.927,-0.922],[7.933,-0.951],[7.939,-0.967],[7.943,-0.983],[7.949,-0.942],[7.955,-0.906],[7.960,-0.869],[7.966,-0.844],[7.972,-0.807],[7.977,-0.832],[7.983,-0.865],[7.989,-0.852],[7.995,-0.828]
];

// ---- chart ----
const MINUS = '\u2212';
const fmt1 = v => (Math.abs(v) < 1e-9 ? '0.0' : v.toFixed(1).replace('-', MINUS));
const tickStyle = { color: '#000', width: 1.2 };
const MAJOR_LEN = 19, MINOR_LEN = 9;

function xAx(grid, pos, ticks, len, withLabels) {
  const ax = {
    type: 'value', gridIndex: grid, position: pos, min: 3.2, max: 8,
    axisLine: { show: false, onZero: false }, splitLine: { show: false },
    axisTick: { show: true, inside: true, length: len, customValues: ticks, lineStyle: tickStyle },
    axisLabel: { show: false }
  };
  if (withLabels) {
    ax.axisLabel = {
      show: true, customValues: xMajorTicks, margin: 20, color: '#000',
      fontFamily: 'DejaVu Serif', fontSize: 30, padding: [0, 0, 0, 36],
      formatter: v => String(Math.round(v))
    };
    ax.name = '1/\u03bb(\u03bc)';
    ax.nameLocation = 'middle';
    ax.nameGap = 70;
    ax.nameTextStyle = { color: '#000', fontFamily: 'DejaVu Serif', fontSize: 38 };
  }
  return ax;
}

function yAx(grid, pos, range, ticks, len, labelTicks, name) {
  const ax = {
    type: 'value', gridIndex: grid, position: pos, min: range[0], max: range[1],
    axisLine: { show: false, onZero: false }, splitLine: { show: false },
    axisTick: { show: true, inside: true, length: len, customValues: ticks, lineStyle: tickStyle },
    axisLabel: { show: false }
  };
  if (labelTicks) {
    ax.axisLabel = {
      show: true, customValues: labelTicks, margin: 36, color: '#000',
      fontFamily: 'DejaVu Sans', fontSize: 21, formatter: fmt1
    };
    ax.name = name;
    ax.nameLocation = 'middle';
    ax.nameGap = 82;
    ax.nameRotate = 90;
    ax.nameTextStyle = {
      color: '#000',
      rich: {
        m: { fontFamily: 'DejaVu Serif', fontSize: 41, lineHeight: 58, verticalAlign: 'bottom', color: '#000' },
        s: { fontFamily: 'DejaVu Serif', fontSize: 23, lineHeight: 22, verticalAlign: 'bottom', color: '#000' }
      }
    };
  }
  return ax;
}

function yName(star) {
  return '{m|\u0394=log(f}{s|\u03bb}{m|/f}{s|\u03bd}{m|)}{s|' + star + '}{m|' + MINUS + 'log(f}{s|\u03bb}{m|/f}{s|\u03bd}{m|)}{s|std}';
}

const topRange = [-1.6, 0.0];
const botRange = [-1.0, -0.15];

const option = {
  animation: false,
  backgroundColor: '#fff',
  grid: [
    { left: 148, right: 32, top: 19, height: 694, show: true, borderColor: '#000', borderWidth: 1.5, backgroundColor: 'transparent' },
    { left: 148, right: 32, top: 713, height: 695, show: true, borderColor: '#000', borderWidth: 1.5, backgroundColor: 'transparent' }
  ],
  title: [
    { text: topLabel, right: 57, top: 124, padding: 0, textStyle: { color: '#000', fontFamily: 'DejaVu Serif', fontSize: 30, fontWeight: 'normal' } },
    { text: botLabel, right: 57, top: 798, padding: 0, textStyle: { color: '#000', fontFamily: 'DejaVu Serif', fontSize: 30, fontWeight: 'normal' } }
  ],
  xAxis: [
    xAx(0, 'bottom', xMajorTicks, MAJOR_LEN, false),
    xAx(0, 'bottom', xMinorTicks, MINOR_LEN, false),
    xAx(0, 'top', xMajorTicks, MAJOR_LEN, false),
    xAx(0, 'top', xMinorTicks, MINOR_LEN, false),
    xAx(1, 'bottom', xMajorTicks, MAJOR_LEN, true),
    xAx(1, 'bottom', xMinorTicks, MINOR_LEN, false),
    xAx(1, 'top', xMajorTicks, MAJOR_LEN, false),
    xAx(1, 'top', xMinorTicks, MINOR_LEN, false)
  ],
  yAxis: [
    yAx(0, 'left', topRange, topYMajor, MAJOR_LEN, topYMajor, yName('Hen3-1347')),
    yAx(0, 'left', topRange, topYMinor, MINOR_LEN, null),
    yAx(0, 'right', topRange, topYMajor, MAJOR_LEN, null),
    yAx(0, 'right', topRange, topYMinor, MINOR_LEN, null),
    yAx(1, 'left', botRange, botYMajor, MAJOR_LEN, botYMajor, yName('Hen3-1428')),
    yAx(1, 'left', botRange, botYMinor, MINOR_LEN, null),
    yAx(1, 'right', botRange, botYMajor, MAJOR_LEN, null),
    yAx(1, 'right', botRange, botYMinor, MINOR_LEN, null)
  ],
  series: [
    { type: 'line', xAxisIndex: 0, yAxisIndex: 0, data: topSpectrum, symbol: 'none', clip: true,
      lineStyle: { color: '#000', width: 1.1 } },
    { type: 'line', xAxisIndex: 0, yAxisIndex: 0, data: topTrend, symbol: 'none', clip: true,
      lineStyle: { color: '#000', width: 1, type: [4, 6] } },
    { type: 'line', xAxisIndex: 4, yAxisIndex: 4, data: botSpectrum, symbol: 'none', clip: true,
      lineStyle: { color: '#000', width: 1.1 } },
    { type: 'line', xAxisIndex: 4, yAxisIndex: 4, data: botTrend, symbol: 'none', clip: true,
      lineStyle: { color: '#000', width: 1, type: [4, 6] } }
  ]
};

const chart = echarts.init(document.getElementById('c'), null, { renderer: 'canvas' });
chart.setOption(option);
</script>
</body></html>
